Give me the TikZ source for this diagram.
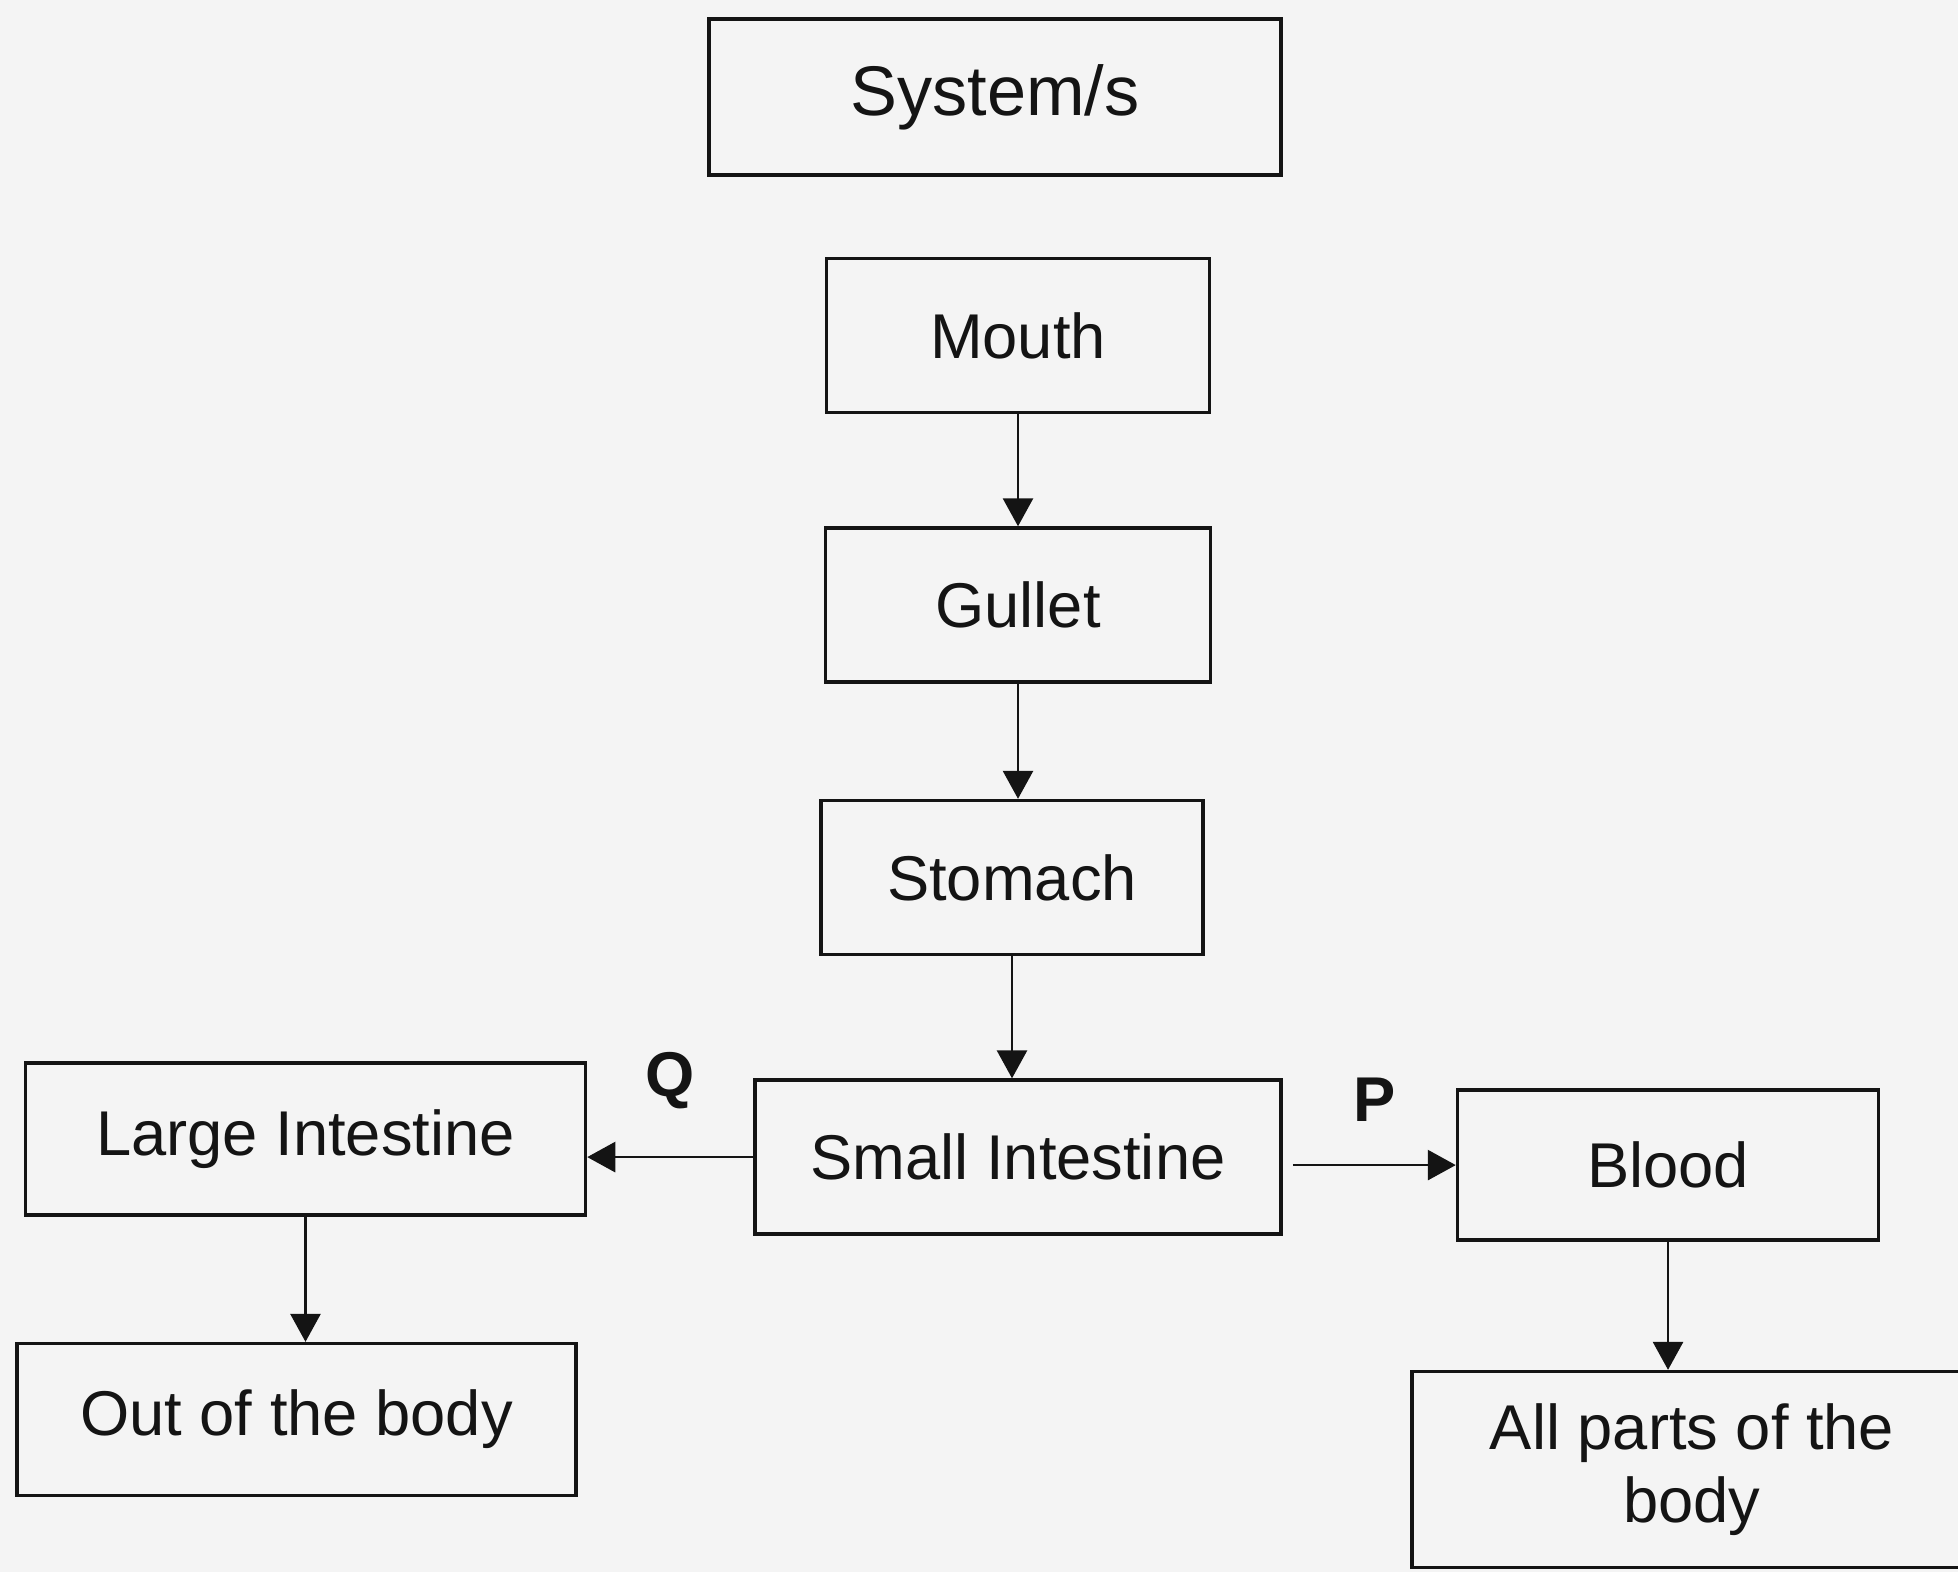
\documentclass[tikz,border=0pt]{standalone}
\usepackage{fontspec}
\setmainfont{Liberation Sans}
\usetikzlibrary{arrows.meta,positioning}
\definecolor{paper}{RGB}{244,244,244}
\definecolor{ink}{RGB}{20,20,20}

\begin{document}
\begin{tikzpicture}[
  every node/.style={font=\fontsize{18}{21}\selectfont, align=center, text=ink},
  box/.style={draw=ink, line width=1pt, inner sep=0pt, minimum height=1.54cm},
  arrow/.style={-{Triangle[length=0.28cm,width=0.3cm]}, line width=0.8pt, ink},
  tag/.style={font=\fontsize{18}{21}\selectfont\bfseries}
]
  \fill[paper] (0,0) rectangle (19.58,-15.72);
  \useasboundingbox (0,0) rectangle (19.58,-15.72);
  % Nodes
  \node (system) [box, minimum width=5.72cm, minimum height=1.56cm, font=\fontsize{20}{24}\selectfont] at (9.95,-0.97) {System/s};
  \node (mouth) [box, minimum width=3.83cm, below=0.8cm of system, xshift=0.23cm] {Mouth};
  \node (gullet) [box, minimum width=3.85cm, below=1.12cm of mouth] {Gullet};
  \node (stomach) [box, minimum width=3.82cm, below=1.15cm of gullet, xshift=-0.06cm] {Stomach};
  \node (small) [box, minimum width=5.26cm, below=1.22cm of stomach, xshift=0.06cm] {Small Intestine};
  \node (large) [box, minimum width=5.6cm, minimum height=1.52cm, left=1.66cm of small, yshift=0.18cm] {Large Intestine};
  \node (out) [box, minimum width=5.59cm, minimum height=1.52cm, below=1.25cm of large, xshift=-0.09cm] {Out of the body};
  \node (blood) [box, minimum width=4.21cm, minimum height=1.5cm, right=1.73cm of small, yshift=-0.08cm] {Blood};
  \node (allparts) [box, minimum width=5.6cm, minimum height=1.96cm, below=1.28cm of blood, xshift=0.24cm] {All parts of the\\body};

  % Paths
  \draw [arrow] (mouth.south) -- (mouth.south |- gullet.north);
  \draw [arrow] (gullet.south) -- (gullet.south |- stomach.north);
  \draw [arrow] (stomach.south) -- (stomach.south |- small.north);
  \draw [arrow] (small.west) -- node[tag, above=0.35cm] {Q} (small.west -| large.east);
  \draw [arrow] ([xshift=0.1cm]blood.west -| small.east) -- node[tag, above=0.3cm] {P} (blood.west);
  \draw [arrow] (large.south) -- (large.south |- out.north);
  \draw [arrow] (blood.south) -- (blood.south |- allparts.north);
\end{tikzpicture}
\end{document}
